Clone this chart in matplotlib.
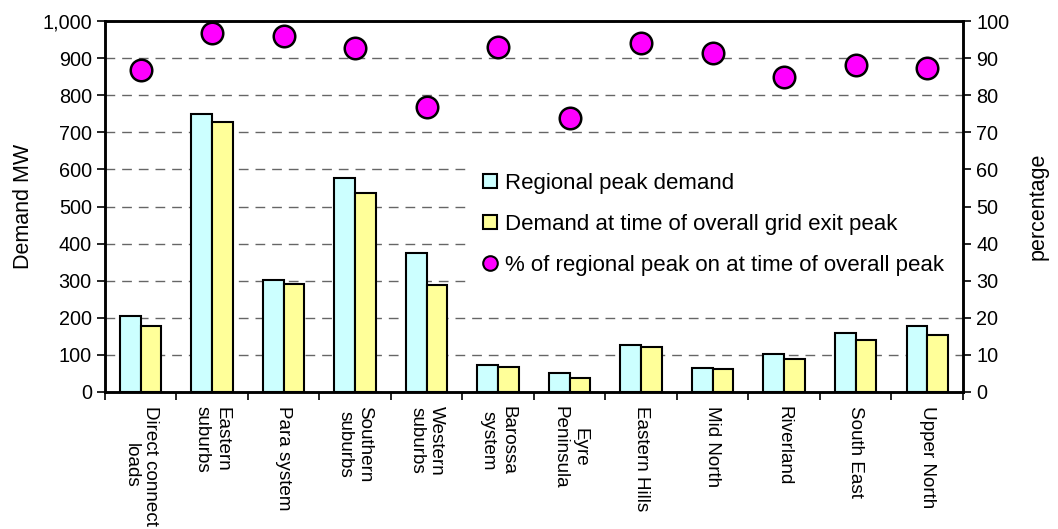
import matplotlib
matplotlib.use("Agg")
import matplotlib.pyplot as plt
import numpy as np
from matplotlib.ticker import FuncFormatter, FixedLocator
from matplotlib.lines import Line2D
from matplotlib.patches import Patch, Rectangle

plt.rcParams['font.family'] = ['Liberation Sans', 'DejaVu Sans']

regions = ["Direct connect\nloads", "Eastern\nsuburbs", "Para system", "Southern\nsuburbs",
           "Western\nsuburbs", "Barossa\nsystem", "Eyre\nPeninsula", "Eastern Hills",
           "Mid North", "Riverland", "South East", "Upper North"]
regional_peak = [205, 750, 301, 577, 374, 74, 51, 128, 65, 102, 160, 178]
demand_at_exit_peak = [178, 727, 290, 537, 288, 68, 38, 120, 61, 88, 140, 155]
pct_of_peak = [86.7, 96.7, 95.9, 92.8, 76.9, 93.0, 73.8, 94.0, 91.3, 85.0, 88.1, 87.4]

TICK_FS = 14.3
XTICK_FS = 13.6
LABEL_FS = 15.5
LEGEND_FS = 16

fig = plt.figure(figsize=(10.58, 5.29), dpi=100)
ax = fig.add_axes([0.0992, 0.259, 0.8110, 0.701])
ax2 = ax.twinx()

x = np.arange(len(regions))
w = 0.29
ax.set_axisbelow(True)
ax.bar(x - w / 2, regional_peak, w, color='#CCFFFF', edgecolor='black', linewidth=1.5, zorder=3)
ax.bar(x + w / 2, demand_at_exit_peak, w, color='#FFFF99', edgecolor='black', linewidth=1.5, zorder=3)

ax.set_xlim(-0.5, len(regions) - 0.5)
ax.set_ylim(0, 1000)
ax.set_yticks(np.arange(0, 1001, 100))
ax.yaxis.set_major_formatter(FuncFormatter(lambda v, p: f"{int(v):,}"))
ax.yaxis.grid(True, linestyle=(0, (7, 5)), color='#666666', linewidth=1.0)
ax.set_ylabel("Demand MW", fontsize=LABEL_FS, labelpad=6)

ax.set_xticks(x)
ax.set_xticklabels(regions, rotation=270, ha='center', va='top', multialignment='center',
                   fontsize=XTICK_FS)
ax.xaxis.set_minor_locator(FixedLocator(np.arange(-0.5, len(regions), 1.0)))
ax.tick_params(axis='x', which='major', length=0, pad=10)
ax.tick_params(axis='x', which='minor', length=6, width=1.2)
ax.tick_params(axis='y', labelsize=TICK_FS, length=6, width=1.2)

# white panel behind the legend, hiding the gridlines there
ax.add_patch(Rectangle((0.422, 0.25), 0.578, 0.40, transform=ax.transAxes,
                       facecolor='white', edgecolor='none', zorder=1))

ax2.plot(x, pct_of_peak, linestyle='none', marker='o', markersize=15.5,
         markerfacecolor='#FF00FF', markeredgecolor='black', markeredgewidth=1.8, zorder=5,
         clip_on=False)
ax2.set_ylim(0, 100)
ax2.set_yticks(np.arange(0, 101, 10))
ax2.tick_params(axis='y', labelsize=TICK_FS, length=6, width=1.2)
ax2.set_ylabel("percentage", fontsize=LABEL_FS, labelpad=13)

for a in (ax, ax2):
    for s in a.spines.values():
        s.set_linewidth(1.8)

handles = [
    Patch(facecolor='#CCFFFF', edgecolor='black', linewidth=1.5),
    Patch(facecolor='#FFFF99', edgecolor='black', linewidth=1.5),
    Line2D([], [], linestyle='none', marker='o', markersize=10.5, markerfacecolor='#FF00FF',
           markeredgecolor='black', markeredgewidth=1.5),
]
labels = ["Regional peak demand", "Demand at time of overall grid exit peak",
          "% of regional peak on at time of overall peak"]
ax2.legend(handles, labels, loc='upper left', bbox_to_anchor=(0.43, 0.615), frameon=False,
           fontsize=LEGEND_FS, labelspacing=0.9, handlelength=0.65, handleheight=0.65,
           handletextpad=0.35, borderaxespad=0)

fig.savefig("out.png", dpi=100)
